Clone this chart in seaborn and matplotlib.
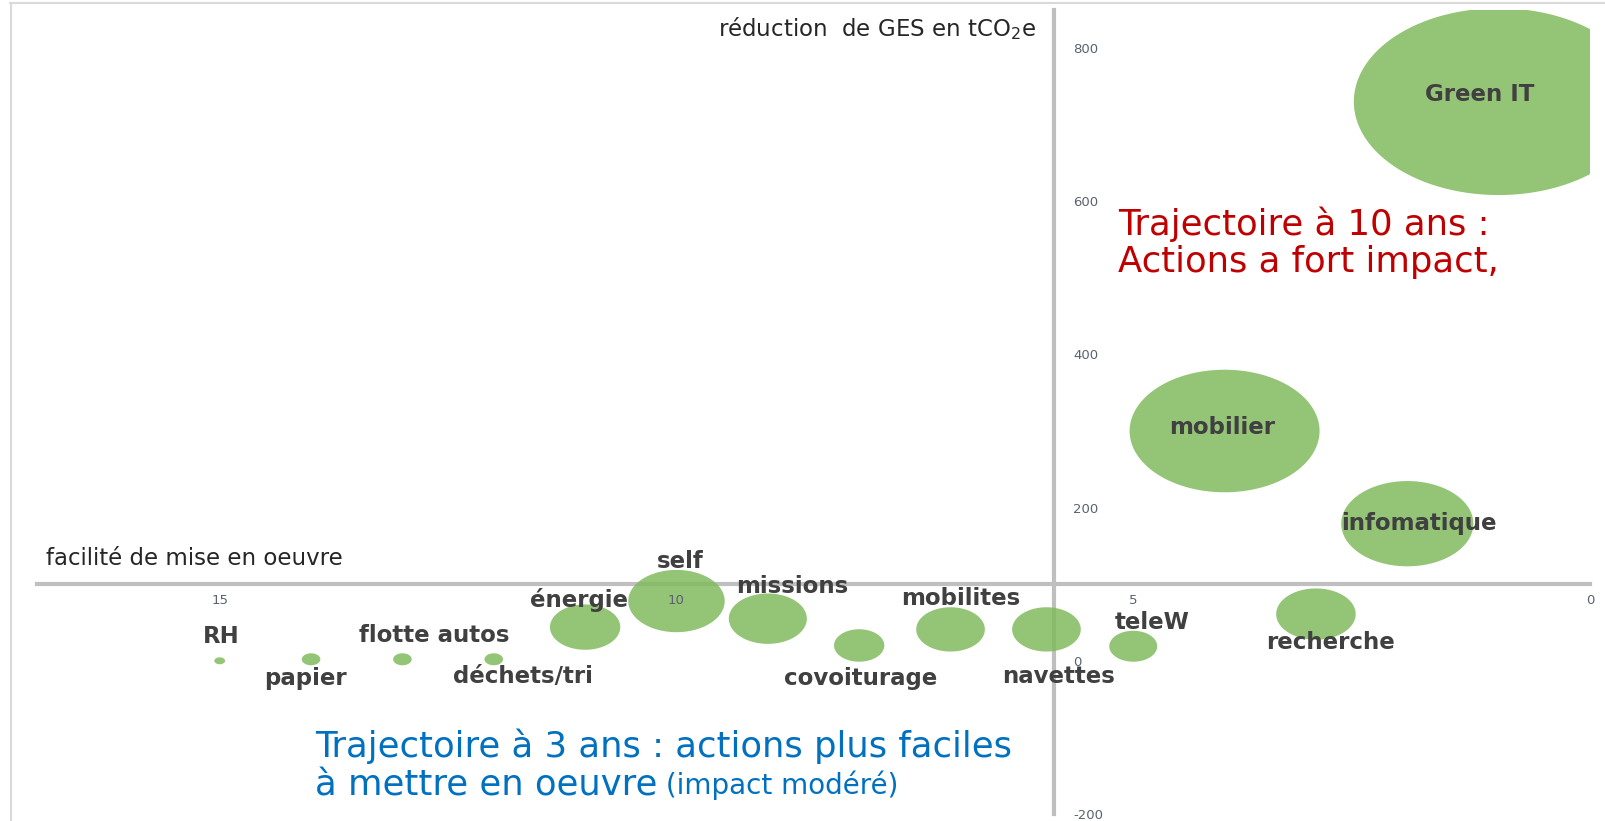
import numpy as np
import pandas as pd
import matplotlib
matplotlib.use("Agg")
import matplotlib.pyplot as plt
import seaborn as sns
from matplotlib.path import Path
from matplotlib.lines import Line2D

# ---------------- data ----------------
actions = ["RH", "papier", "flotte autos", "déchets/tri", "énergie", "self",
           "missions", "covoiturage", "mobilites", "navettes", "teleW",
           "recherche", "infomatique", "mobilier", "Green IT"]
facilite = [15, 14, 13, 12, 11, 10, 9, 8, 7, 5.95, 5, 3, 2, 4, 1]
reduction = [0, 2, 2, 2, 44, 78, 55, 20, 41, 41, 19, 61, 179, 300, 730]
bubble_size = [1, 3, 3, 3, 43, 81, 53, 22, 41, 41, 20, 55, 152, 314, 730]

x_ticks = [15, 10, 5, 0]
y_ticks = [-200, 0, 200, 400, 600, 800]

# ---------------- style ----------------
sns.set_style("white")
plt.rcParams["font.family"] = ["DejaVu Sans"]
plt.rcParams["axes.unicode_minus"] = False

W, H = 1605, 821
fig = plt.figure(figsize=(W / 100, H / 100), dpi=100)
fig.patch.set_facecolor("white")


def fx(px):
    return px / W


def fy(py):
    return 1 - py / H


ax = fig.add_axes([fx(37), fy(814), fx(1590) - fx(37), fy(9.7) - fy(814)])
ax.set_facecolor("none")

# horizontally stretched bubble (ellipse marker)
theta = np.linspace(0, 2 * np.pi, 120)
ell = Path(np.column_stack([1.55 * np.cos(theta), np.sin(theta)]), closed=True)

df = pd.DataFrame({"action": actions, "x": facilite, "y": reduction, "s": bubble_size})
sns.scatterplot(data=df, x="x", y="y", size="s", sizes=(0, 43500), size_norm=(0, 730),
                marker=ell, color="#81BA5E", alpha=0.85, linewidth=0, legend=False,
                ax=ax, zorder=2)

# label offsets in pixels (dx, dy downwards)
label_offsets = {
    "RH": (2, -24), "papier": (-6, 19), "flotte autos": (32, -24),
    "déchets/tri": (29, 17), "énergie": (-6, -27), "self": (4, -40),
    "missions": (24, -32), "covoiturage": (1, 33), "mobilites": (10, -31),
    "navettes": (12, 47), "teleW": (19, -24), "recherche": (15, 28),
    "infomatique": (12, 0), "mobilier": (-2, -4), "Green IT": (-19, -7),
}
for name, xv, yv in zip(actions, facilite, reduction):
    dx, dy = label_offsets[name]
    ax.annotate(name, (xv, yv), xytext=(dx * 0.72, -dy * 0.72), textcoords="offset points",
                ha="center", va="center", fontsize=16.5, fontweight="bold",
                color="#404040", zorder=5, annotation_clip=False)

ax.set_xlim(17, 0)
ax.set_ylim(-200, 850)
ax.set_xlabel("")
ax.set_ylabel("")
for s in ["top", "left"]:
    ax.spines[s].set_visible(False)
ax.spines["bottom"].set_position(("data", 100))
ax.spines["right"].set_position(("data", 5.87))
for s in ["bottom", "right"]:
    ax.spines[s].set_color("#BFBFBF")
    ax.spines[s].set_linewidth(3)
    ax.spines[s].set_zorder(1)
ax.yaxis.set_ticks_position("right")
ax.xaxis.set_ticks_position("bottom")
ax.set_xticks(x_ticks)
ax.set_yticks(y_ticks)
ax.tick_params(axis="x", length=0, pad=7, labelsize=9.5, labelcolor="#5A6270")
ax.tick_params(axis="y", length=0, pad=14, labelsize=9.5, labelcolor="#5A6270")
ax.set_axisbelow(False)

# axis titles
fig.text(fx(1036), fy(29), "réduction  de GES en tCO$_2$e", ha="right", va="center",
         fontsize=16.5, color="#262626")
fig.text(fx(46), fy(558), "facilité de mise en oeuvre", ha="left", va="center",
         fontsize=16.5, color="#262626")

# annotations
red = "#C00000"
fig.text(fx(1118), fy(224), "Trajectoire à 10 ans :", ha="left", va="center",
         fontsize=25.5, color=red)
fig.text(fx(1118), fy(262), "Actions a fort impact,", ha="left", va="center",
         fontsize=25.5, color=red)
blue = "#0070C0"
fig.text(fx(315), fy(746), "Trajectoire à 3 ans : actions plus faciles", ha="left",
         va="center", fontsize=25.5, color=blue)
t2 = fig.text(fx(315), fy(785), "à mettre en oeuvre", ha="left", va="center",
              fontsize=25.5, color=blue)
fig.add_artist(plt.Annotation(" (impact modéré)", xy=(1, 0), xycoords=t2,
                              xytext=(0, 1.3), textcoords="offset points",
                              ha="left", va="bottom", fontsize=20, color=blue))

# light frame of the original picture
fig.add_artist(Line2D([fx(10), 1], [fy(3), fy(3)], color="#D9D9D9", lw=1.5))
fig.add_artist(Line2D([fx(11), fx(11)], [0, fy(3)], color="#D9D9D9", lw=1.5))

fig.savefig("out.png", dpi=100, facecolor="white")
